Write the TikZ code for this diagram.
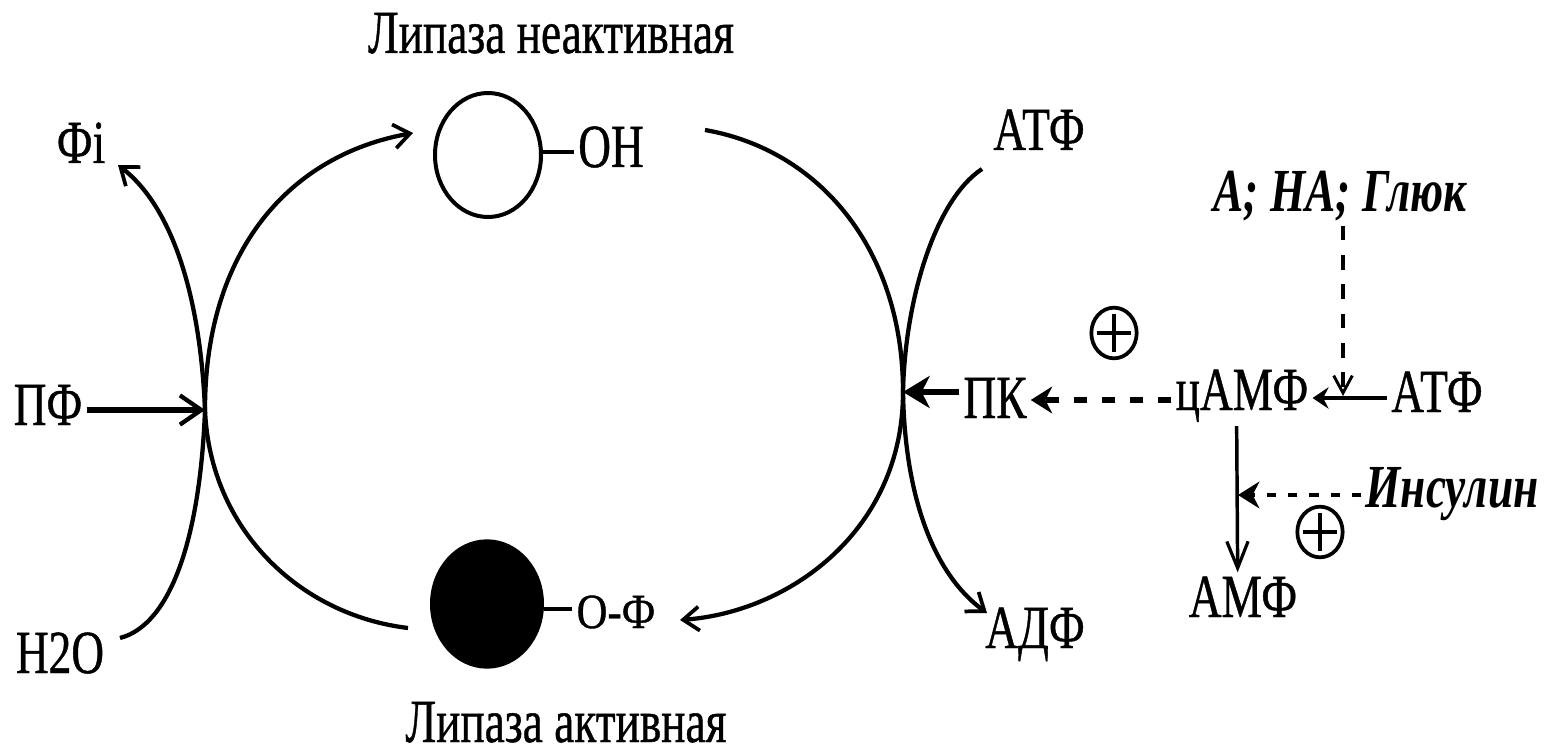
\documentclass[tikz,border=0pt]{standalone}
\usepackage{fontspec}
\setmainfont{Liberation Serif}
\newfontfamily\rmthick{Liberation Serif}[FakeBold=0.8]
\usetikzlibrary{arrows.meta,shapes.geometric}
\newcommand\vs[1]{\scalebox{1}[1.35]{#1}}
\begin{document}
\begin{tikzpicture}[x=0.75pt,y=-0.75pt,
  lbl/.style={font=\rmthick\fontsize{34}{40}\selectfont, inner sep=3pt, anchor=base},
  lblb/.style={lbl, font=\fontsize{34}{40}\selectfont\bfseries\itshape},
  curve/.style={line width=3.2pt, -{Straight Barb[length=12pt,width=18pt,line width=2.8pt]}},
  bond/.style={line width=3pt},
  enz/.style={draw, ellipse, line width=3pt, inner sep=0pt},
  plusc/.style={draw, ellipse, line width=2.8pt, inner sep=0pt, minimum width=34pt, minimum height=38pt,
    path picture={\draw[line width=2.8pt] ([xshift=-13pt]path picture bounding box.center) -- ([xshift=13pt]path picture bounding box.center);
                  \draw[line width=2.8pt] ([yshift=-14pt]path picture bounding box.center) -- ([yshift=14pt]path picture bounding box.center);}},
  solidhead/.style={-{Stealth[length=16pt,width=20pt,inset=5pt]}}
]
\useasboundingbox (0,0) rectangle (1554,756);
\fill[white] (0,0) rectangle (1554,756);

% enzyme states
\node[enz, minimum width=79.5pt, minimum height=93pt] (inact) at (488,155) {};
\node[enz, fill=black, minimum width=82.5pt, minimum height=94pt] (act) at (487,604) {};
\node[lbl] (oh) at (611,167) {\vs{ОН}};
\node[lbl, font=\rmthick\fontsize{32}{38}\selectfont] (of) at (616,628) {\scalebox{1}[1.15]{О-Ф}};
\draw[bond] (inact.east |- 0,152) -- (oh.west |- 0,152);
\draw[bond] (act.east |- 0,609) -- (of.west |- 0,609);

\node[lbl] (t1) at (551,53) {\vs{Липаза неактивная}};
\node[lbl] (t2) at (566,742) {\vs{Липаза активная}};

% left side labels
\node[lbl] (fi) at (81,163) {\vs{Фi}};
\node[lbl] (pf) at (48,425) {\vs{ПФ}};
\node[lbl] (h2o) at (60,673) {\vs{H2O}};

% right side labels
\node[lbl] (atp1) at (1039,150) {\vs{АТФ}};
\node[lbl] (adp) at (1035,648) {\vs{АДФ}};
\node[lbl] (pk) at (995,418) {\vs{ПК}};
\node[lbl] (camp) at (1242,410) {\vs{цАМФ}};
\node[lbl] (atp2) at (1437,412) {\vs{АТФ}};
\node[lbl] (amp) at (1243,617) {\vs{АМФ}};
\node[lblb] (ahg) at (1340,212) {\vs{А; НА; Глюк}};
\node[lblb] (ins) at (1452,507) {\vs{Инсулин}};

\node[plusc] (p1) at (1114,333) {};
\node[plusc] (p2) at (1320,532) {};

% crossing points and curve ends
\coordinate (xL) at (205,410);
\coordinate (xR) at (903,392);
\coordinate (aL1) at (408,628);
\coordinate (aL2) at (413,133);
\coordinate (sL1) at (120,638);
\coordinate (sL2) at (118,165);
\coordinate (rB1) at (705,130);
\coordinate (rB2) at (680,620);
\coordinate (sR1) at (982,169);
\coordinate (sR2) at (987,613);
\coordinate (j) at (1343,396);
\coordinate (k) at (1238,495);

% left cycle curves
\draw[curve] (aL1) .. controls (300,615) and (210,530) .. (xL) .. controls (205,250) and (290,155) .. (aL2);
\draw[curve] (sL1) .. controls (170,625) and (200,540) .. (xL) .. controls (200,290) and (170,205) .. (sL2);
% right cycle curves
\draw[curve] (rB1) .. controls (820,150) and (903,250) .. (xR) .. controls (903,530) and (790,612) .. (rB2);
\draw[curve] (sR1) .. controls (935,200) and (905,300) .. (xR) .. controls (905,500) and (935,575) .. (sR2);

% straight arrows
\draw[line width=3.8pt, -{Straight Barb[length=16pt,width=22pt,line width=3.2pt]}] (pf.east |- xL) -- (xL);
\draw[line width=3.8pt, -{Stealth[length=20pt,width=24pt,inset=6pt]}] (pk.west |- xR) -- (xR);
\draw[line width=3.8pt, dash pattern=on 10pt off 11pt, solidhead] (camp.west |- 0,400) -- (pk.east |- 0,400);
\draw[line width=3.2pt, -{Stealth[length=12pt,width=16pt,inset=4pt]}] (atp2.west |- 0,398) -- (camp.east |- 0,398);
\draw[line width=2.5pt, dash pattern=on 11pt off 11pt, -{Straight Barb[length=13pt,width=14pt,line width=2.2pt]}] (j |- ahg.south) -- (j);
\draw[line width=2.6pt, -{Straight Barb[length=20pt,width=16pt,line width=2.4pt]}] ([xshift=-4pt]camp.south) -- ([xshift=-4pt]amp.north);
\draw[line width=3.2pt, dash pattern=on 7pt off 9pt, solidhead] (k -| ins.west) -- (k);
\end{tikzpicture}
\end{document}
